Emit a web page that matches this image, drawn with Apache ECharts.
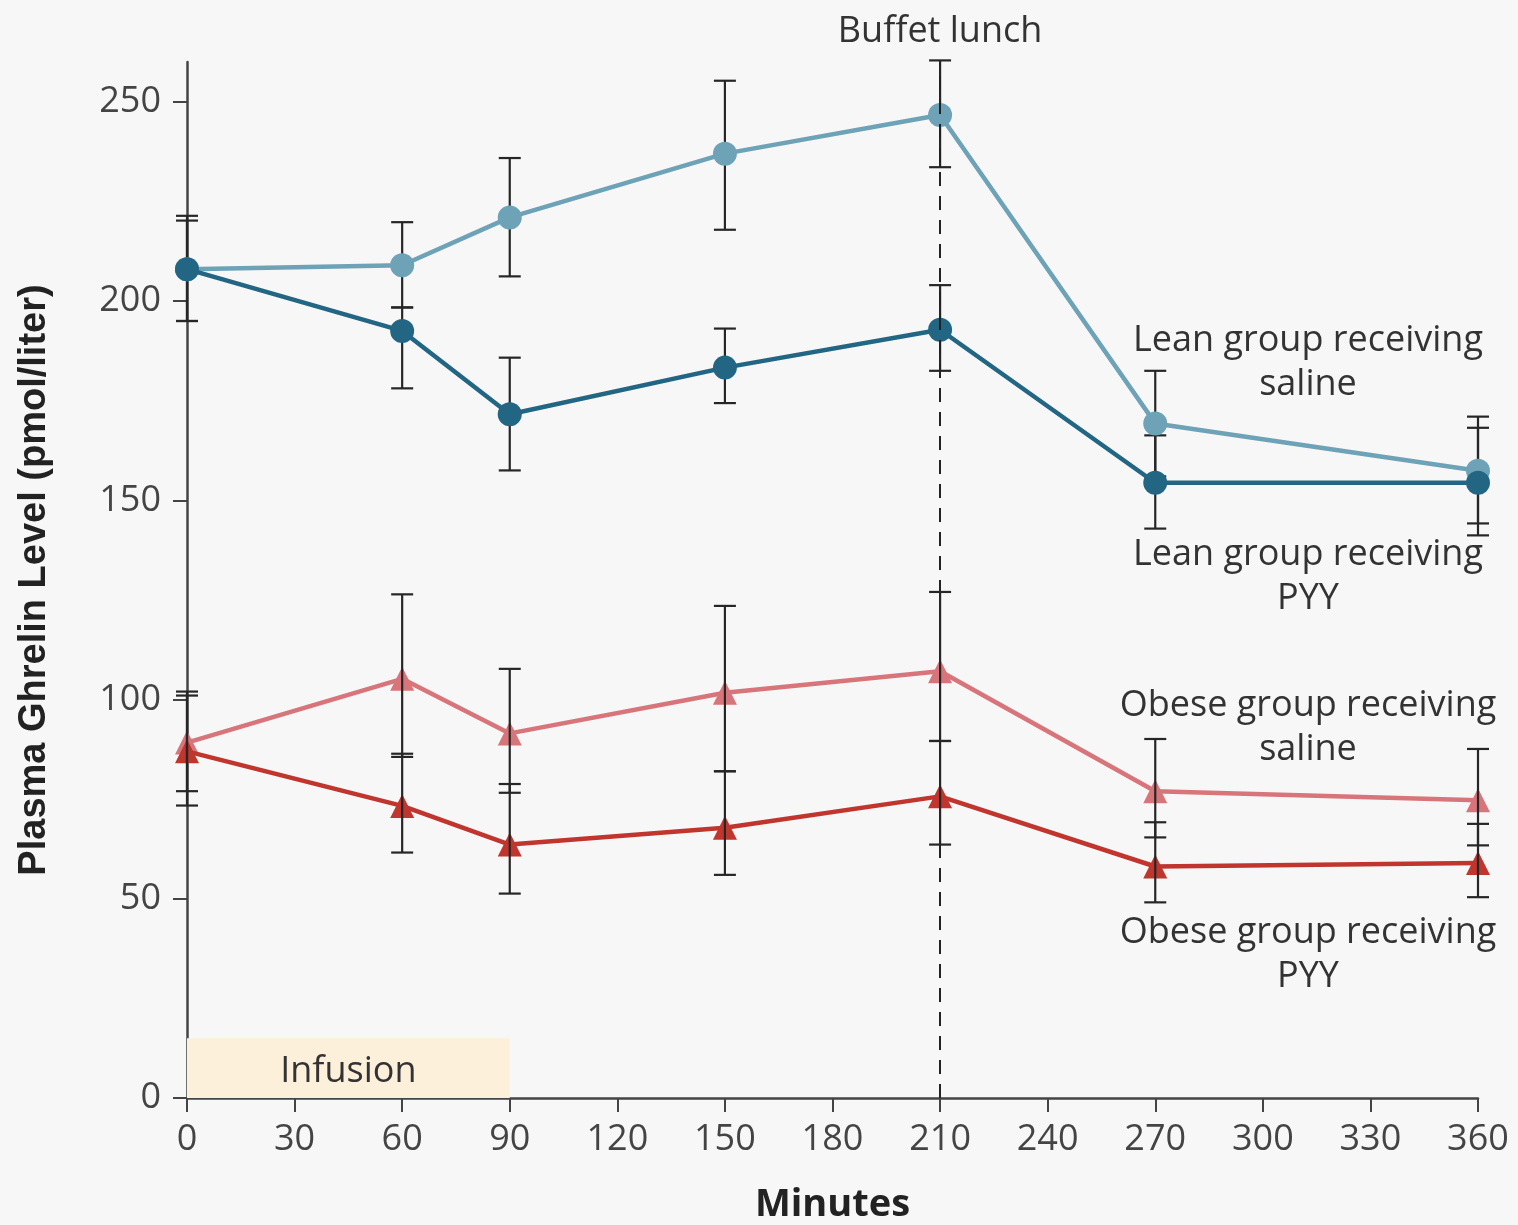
<!DOCTYPE html>
<html>
<head>
<meta charset="utf-8">
<script src="https://cdn.jsdelivr.net/npm/echarts@6/dist/echarts.min.js"></script>
<style>
html,body{margin:0;padding:0;background:#f7f7f7;}
#chart{width:1518px;height:1225px;}
</style>
</head>
<body>
<div id="chart"></div>
<script>
// ---- data ----
const minutes = [0, 60, 90, 150, 210, 270, 360];
const xTicks = [0, 30, 60, 90, 120, 150, 180, 210, 240, 270, 300, 330, 360];
const yTicks = [0, 50, 100, 150, 200, 250];

const leanSaline     = [208, 209, 221, 237, 246.7, 169.3, 157.4];
const leanSalineHigh = [221.4, 219.8, 235.9, 255.3, 260.4, 182.5, 171];
const leanSalineLow  = [195, 198.4, 206.2, 217.9, 233.6, 156, 144.2];

const leanPYY     = [208, 192.5, 171.6, 183.3, 192.8, 154.4, 154.4];
const leanPYYHigh = [220.2, 198.4, 185.8, 193.1, 204, 166.3, 168.2];
const leanPYYLow  = [195, 178.1, 157.5, 174.4, 182.5, 142.9, 141.2];

const obeseSaline     = [89.2, 105.2, 91.5, 101.7, 107.1, 77, 74.7];
const obeseSalineHigh = [102, 126.4, 107.7, 123.5, 127, 90.1, 87.6];
const obeseSalineLow  = [77, 85.6, 76.6, 82, 89.6, 65.4, 63.4];

const obesePYY     = [87, 73.3, 63.6, 67.8, 75.7, 58.1, 59];
const obesePYYHigh = [101, 86.4, 78.8, 82, 89.6, 69.2, 68.8];
const obesePYYLow  = [73.4, 61.6, 51.3, 56, 63.6, 49.1, 50.4];

const infusion = [0, 90];      // minutes
const infusionHeight = 15;     // band height in axis units
const lunchTime = 210;

// ---- helpers ----
const pts = (vals) => minutes.map((m, i) => [m, vals[i]]);
const errs = (lo, hi) => minutes.map((m, i) => [m, lo[i], hi[i]]);

function errRender(params, api) {
  const x = api.value(0);
  const pLo = api.coord([x, api.value(1)]);
  const pHi = api.coord([x, api.value(2)]);
  const w = 11;
  const st = { stroke: '#262626', lineWidth: 2.2 };
  return {
    type: 'group',
    children: [
      { type: 'line', shape: { x1: pLo[0], y1: pLo[1], x2: pHi[0], y2: pHi[1] }, style: st },
      { type: 'line', shape: { x1: pHi[0] - w, y1: pHi[1], x2: pHi[0] + w, y2: pHi[1] }, style: st },
      { type: 'line', shape: { x1: pLo[0] - w, y1: pLo[1], x2: pLo[0] + w, y2: pLo[1] }, style: st }
    ]
  };
}

const FONT = '"Open Sans", "DejaVu Sans", sans-serif';
const FS = 36;
const C_LS = '#6ea2b7', C_LP = '#226683', C_OS = '#d8757a', C_OP = '#c0352d';

function lineSeries(name, vals, color, symbol, size, z) {
  return {
    name, type: 'line', data: pts(vals), symbol, symbolSize: size,
    lineStyle: { color, width: 4.5 }, itemStyle: { color }, z, animation: false
  };
}
function errSeries(lo, hi, z) {
  return { type: 'custom', renderItem: errRender, data: errs(lo, hi), z, animation: false, silent: true };
}

const chart = echarts.init(document.getElementById('chart'));
chart.setOption({
  backgroundColor: '#f7f7f7',
  animation: false,
  grid: { left: 187, right: 40, top: 62, bottom: 127, containLabel: false, outerBoundsMode: 'none' },
  xAxis: {
    type: 'value', min: 0, max: 360, interval: 30,
    name: 'Minutes', nameLocation: 'middle', nameGap: 88,
    nameTextStyle: { fontFamily: FONT, fontWeight: 'bold', fontSize: 38, color: '#222' },
    axisLine: { lineStyle: { color: '#444', width: 2.5 } },
    axisTick: { show: true, length: 14, lineStyle: { color: '#444', width: 2 } },
    axisLabel: { fontFamily: FONT, fontSize: FS, color: '#444', margin: 24, customValues: xTicks },
    splitLine: { show: false }
  },
  yAxis: {
    type: 'value', min: 0, max: 260, interval: 50,
    name: 'Plasma Ghrelin Level (pmol/liter)', nameLocation: 'middle', nameGap: 133,
    nameTextStyle: { fontFamily: '"Liberation Sans", sans-serif', fontWeight: 'bold', fontSize: 38, color: '#222' },
    axisLine: { show: true, lineStyle: { color: '#444', width: 2.5 } },
    axisTick: { show: true, length: 14, lineStyle: { color: '#444', width: 2 }, customValues: yTicks },
    axisLabel: { fontFamily: FONT, fontSize: FS, color: '#444', margin: 26, customValues: yTicks },
    splitLine: { show: false }
  },
  series: [
    {
      type: 'line', data: [], z: 1, silent: true,
      markArea: {
        silent: true,
        itemStyle: { color: '#fdf0da' },
        label: { show: true, position: 'inside', formatter: 'Infusion', fontFamily: FONT, fontSize: FS, color: '#333', offset: [0, 4] },
        data: [[{ coord: [infusion[0], 0] }, { coord: [infusion[1], infusionHeight] }]]
      },
      markLine: {
        silent: true, symbol: 'none',
        lineStyle: { color: '#222', type: [14, 10], width: 2 },
        label: { show: true, position: 'end', formatter: 'Buffet lunch', fontFamily: FONT, fontSize: FS, color: '#333', distance: 12 },
        data: [{ xAxis: lunchTime }]
      }
    },
    errSeries(leanSalineLow, leanSalineHigh, 2),
    errSeries(leanPYYLow, leanPYYHigh, 2),
    lineSeries('Lean group receiving saline', leanSaline, C_LS, 'circle', 24, 3),
    lineSeries('Lean group receiving PYY', leanPYY, C_LP, 'circle', 24, 4),
    lineSeries('Obese group receiving saline', obeseSaline, C_OS, 'triangle', 24, 3),
    lineSeries('Obese group receiving PYY', obesePYY, C_OP, 'triangle', 24, 4),
    errSeries(obeseSalineLow, obeseSalineHigh, 5),
    errSeries(obesePYYLow, obesePYYHigh, 5)
  ],
  graphic: [
    { type: 'text', x: 1308, y: 363, style: { text: 'Lean group receiving\nsaline', align: 'center', verticalAlign: 'middle', font: FS + 'px ' + FONT, fill: '#333', lineHeight: 44 } },
    { type: 'text', x: 1308, y: 577, style: { text: 'Lean group receiving\nPYY', align: 'center', verticalAlign: 'middle', font: FS + 'px ' + FONT, fill: '#333', lineHeight: 44 } },
    { type: 'text', x: 1308, y: 728, style: { text: 'Obese group receiving\nsaline', align: 'center', verticalAlign: 'middle', font: FS + 'px ' + FONT, fill: '#333', lineHeight: 44 } },
    { type: 'text', x: 1308, y: 955, style: { text: 'Obese group receiving\nPYY', align: 'center', verticalAlign: 'middle', font: FS + 'px ' + FONT, fill: '#333', lineHeight: 44 } }
  ]
});
</script>
</body>
</html>
